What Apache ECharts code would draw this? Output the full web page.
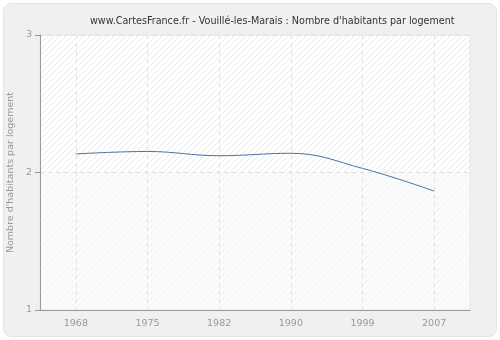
<!DOCTYPE html>
<html>
<head>
<meta charset="utf-8">
<script src="https://cdn.jsdelivr.net/npm/echarts@6/dist/echarts.min.js"></script>
<style>html,body{margin:0;padding:0;background:#fff;}#c{width:500px;height:340px;}</style>
</head>
<body>
<div id="c"></div>
<script>
var years = ['1968', '1975', '1982', '1990', '1999', '2007'];
var values = [2.135, 2.153, 2.122, 2.14, 2.03, 1.865];
var yTicks = [1, 2, 3];
var titleText = "www.CartesFrance.fr - Vouillé-les-Marais : Nombre d'habitants par logement";
var yName = "Nombre d'habitants par logement";

function hatch(bg, line) {
  var c = document.createElement('canvas');
  c.width = 6; c.height = 6;
  var g = c.getContext('2d');
  g.fillStyle = bg; g.fillRect(0, 0, 6, 6);
  g.strokeStyle = line; g.lineWidth = 1;
  g.beginPath();
  g.moveTo(0, 6); g.lineTo(6, 0);
  g.moveTo(-3, 3); g.lineTo(3, -3);
  g.moveTo(3, 9); g.lineTo(9, 3);
  g.stroke();
  return {image: c, repeat: 'repeat'};
}

var chart = echarts.init(document.getElementById('c'), null, {renderer: 'canvas'});
chart.setOption({
  animation: false,
  backgroundColor: '#ffffff',
  graphic: [{
    type: 'rect', z: -10, silent: true,
    shape: {x: 3.5, y: 3.5, width: 493, height: 333, r: 8},
    style: {fill: '#f0f0f0', stroke: '#e4e4e4', lineWidth: 1}
  }],
  title: {
    text: titleText, left: 85, top: 11,
    textStyle: {fontFamily: 'DejaVu Sans', fontSize: 9.6, fontWeight: 'normal', color: '#333'}
  },
  grid: {
    left: 40, right: 30, top: 35, bottom: 30, outerBoundsMode: 'none', containLabel: false,
    show: true, backgroundColor: 'transparent', borderColor: '#e6e6e6', borderWidth: 1
  },
  xAxis: {
    type: 'category', data: years, boundaryGap: true,
    axisLine: {lineStyle: {color: '#999'}},
    axisTick: {alignWithLabel: true, length: 5, lineStyle: {color: '#999'}},
    axisLabel: {color: '#999', fontFamily: 'DejaVu Sans', fontSize: 9.5, margin: 9},
    splitLine: {show: true, alignWithLabel: true, lineStyle: {color: '#e0e0e0', type: [4, 4]}}
  },
  yAxis: {
    type: 'value', min: yTicks[0], max: yTicks[yTicks.length - 1], interval: 1,
    name: yName, nameLocation: 'middle', nameGap: 19,
    nameTextStyle: {color: '#999', fontFamily: 'DejaVu Sans', fontSize: 9.5},
    axisLine: {show: true, lineStyle: {color: '#999'}},
    axisTick: {show: true, length: 5, lineStyle: {color: '#999'}},
    axisLabel: {color: '#999', fontFamily: 'DejaVu Sans', fontSize: 9.5, margin: 8},
    splitLine: {show: true, lineStyle: {color: '#e0e0e0', type: [4, 4]}}
  },
  series: [{
    type: 'line', data: values, smooth: 0.4, showSymbol: false,
    lineStyle: {color: '#4a72a8', width: 1},
    itemStyle: {color: '#4a72a8'},
    markArea: {
      silent: true,
      z: -1,
      data: [
        [{yAxis: yTicks[1], itemStyle: {color: hatch('#ffffff', '#e9e9e9')}}, {yAxis: yTicks[2]}],
        [{yAxis: yTicks[0], itemStyle: {color: hatch('#fbfbfb', '#f3f3f3')}}, {yAxis: yTicks[1]}]
      ]
    }
  }]
});
</script>
</body>
</html>
